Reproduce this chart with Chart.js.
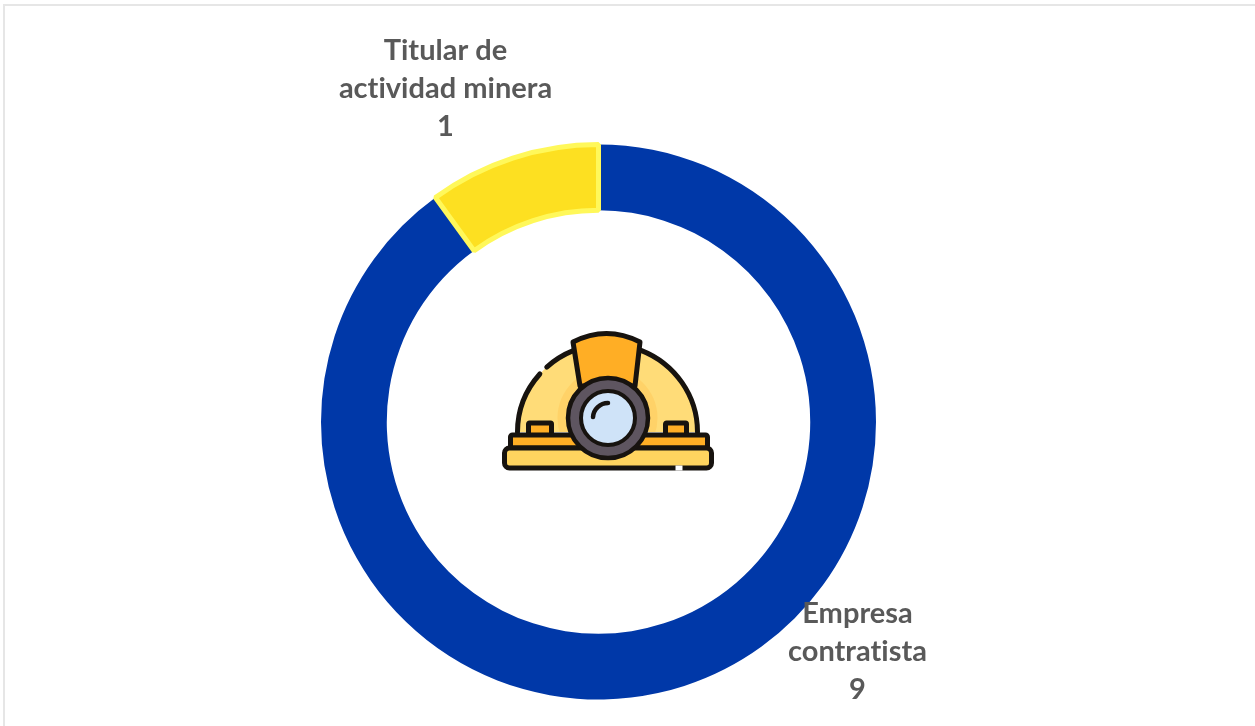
<!DOCTYPE html>
<html><head><meta charset="utf-8">
<style>
html,body{margin:0;padding:0;background:#fff;overflow:hidden}
#wrap{position:relative;width:1255px;height:726px;overflow:hidden}
#frame{position:absolute;left:3px;top:4px;width:1300px;height:800px;border:2px solid #e6e6e6;box-sizing:border-box}
canvas{position:absolute;left:0;top:0}
</style>
<script src="https://cdn.jsdelivr.net/npm/chart.js@4"></script>
</head><body>
<div id="wrap"><div id="frame"></div><canvas id="c" width="1255" height="726"></canvas></div>
<script>
const categories = ["Empresa contratista", "Titular de actividad minera"];
const labelLines = [["Empresa", "contratista"], ["Titular de", "actividad minera"]];
const values = [9, 1];

const ink = "#17130f";
function box(c,x,y,w,h,r,fill){c.beginPath();c.roundRect(x,y,w,h,r);c.fillStyle=fill;c.fill();c.stroke();}

const helmetPlugin = {
  id: "helmet",
  afterDatasetsDraw(chart){
    const a = chart.getDatasetMeta(0).data[0];
    const c = chart.ctx;
    c.save();
    c.translate(a.x + 9, a.y);
    c.lineCap = "round"; c.lineJoin = "round";
    c.filter = "blur(0.7px)";
    // shell fill
    c.beginPath();
    c.ellipse(0,10,90,88,0,Math.PI,Math.PI*2);
    c.closePath();
    c.fillStyle = "#FFDC78"; c.fill();
    c.save();
    c.clip();
    c.beginPath(); c.arc(0,-4,50,0,Math.PI*2); c.fillStyle = "#FFD268"; c.fill();
    c.restore();
    // shell outline with its gap on the left
    c.strokeStyle = ink; c.lineWidth = 5;
    c.beginPath(); c.ellipse(0,10,90,88,0,Math.PI,Math.PI+0.72); c.stroke();
    c.beginPath(); c.ellipse(0,10,90,88,0,Math.PI+0.83,Math.PI+1.18); c.stroke();
    c.beginPath(); c.ellipse(0,10,90,88,0,Math.PI*2-1.19,Math.PI*2); c.stroke();
    // strap
    c.beginPath();
    c.moveTo(-34.5,-80);
    c.quadraticCurveTo(-1,-97,32.5,-80);
    c.lineTo(27.5,-36); c.lineTo(-27.5,-36);
    c.closePath();
    c.fillStyle = "#FFAE25"; c.fill(); c.stroke();
    // tabs
    box(c,-79,1,23,13,1,"#FFAE25");
    box(c,58,1,21,13,1,"#FFAE25");
    // brims
    box(c,-97,13,197,13,2,"#FFAE25");
    box(c,-103,26,207,20,5,"#FFD45F");
    // gap in the lower outline
    c.strokeStyle = "#ffffff"; c.lineWidth = 5; c.lineCap = "butt";
    c.beginPath(); c.moveTo(68,46); c.lineTo(75,46); c.stroke();
    c.strokeStyle = ink; c.lineCap = "round";
    // lamp
    c.beginPath(); c.arc(0.5,-4,40,0,Math.PI*2); c.fillStyle="#5E5560"; c.fill();
    c.lineWidth=4.5; c.stroke();
    c.beginPath(); c.arc(0.5,-4,27,0,Math.PI*2); c.fillStyle="#CFE3F8"; c.fill();
    c.lineWidth=4; c.stroke();
    c.beginPath(); c.arc(0.5,-4,15,Math.PI*1.02,Math.PI*1.5); c.lineWidth=4.5; c.stroke();
    c.restore();
  }
};

// label block centres relative to the ring centre
const labelOffsets = [[259, 192], [-153, -371]];
const labelPlugin = {
  id: "sliceLabels",
  afterDraw(chart){
    const a = chart.getDatasetMeta(0).data[0];
    const c = chart.ctx;
    c.save();
    c.font = "700 29px Lato";
    c.letterSpacing = "0.01px";
    c.fillStyle = "#595959";
    c.textAlign = "center"; c.textBaseline = "middle";
    values.forEach((v,i)=>{
      const x = a.x + labelOffsets[i][0], y = a.y + labelOffsets[i][1];
      const lines = [...labelLines[i], String(v)];
      lines.forEach((t,k)=>c.fillText(t, x, y + k*38));
    });
    c.restore();
  }
};

new Chart(document.getElementById("c"), {
  type: "doughnut",
  data: {
    labels: categories,
    datasets: [{
      data: values,
      backgroundColor: ["#0038A8", "#FDE021"],
      borderColor: ["#0038A8", "#FFF85A"],
      borderWidth: [0, 5],
      borderAlign: "center",
      hoverOffset: 0
    }]
  },
  options: {
    responsive: false,
    animation: false,
    cutout: "76.3%",
    layout: { padding: { left: 318, right: 376, top: 142, bottom: 24 } },
    plugins: { legend: { display: false }, tooltip: { enabled: false } }
  },
  plugins: [helmetPlugin, labelPlugin]
});
</script>
</body></html>
